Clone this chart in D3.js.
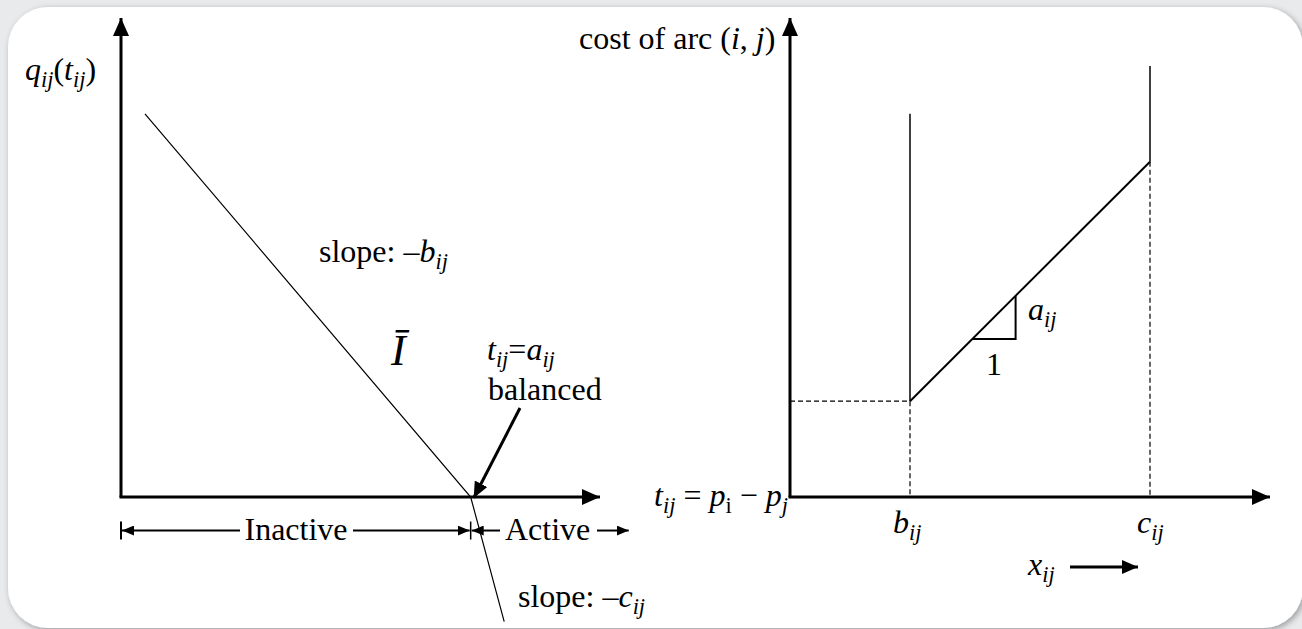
<!DOCTYPE html>
<html><head><meta charset="utf-8">
<script src="https://cdn.jsdelivr.net/npm/d3@7"></script>
<style>
html,body{margin:0;padding:0;background:#e9eaec;}
svg{display:block;}
text{font-family:"Liberation Serif","Times New Roman",serif;fill:#000;}
</style></head><body>
<svg id="chart" width="1302" height="629"></svg>
<script>
// Left panel: q_ij(t_ij) as a piecewise-linear function of t_ij
const qCurve = [[0.5, 8.0], [7.3, 0], [8.0, -2.6]];
const balancedT = 7.3;
const inactiveSpan = [0, 7.3];
const activeSpan = [7.3, 10.6];

// Right panel: cost of arc (i, j) against flow x_ij
const lowerBound = 2.5;      // b_ij
const upperBound = 7.5;      // c_ij
const costAtLower = 2;
const costAtUpper = 7;
const wallTops = [8, 9];     // tops of the vertical walls at b_ij and c_ij
const unitStep = [3.8, 4.7]; // slope triangle base

const FS = 32;
const svg = d3.select("#chart");

// panel card
const defs = svg.append("defs");
const f = defs.append("filter").attr("id", "shadow").attr("x", "-5%").attr("y", "-5%").attr("width", "110%").attr("height", "110%");
f.append("feDropShadow").attr("dx", 2).attr("dy", 2).attr("stdDeviation", 3).attr("flood-color", "#000").attr("flood-opacity", 0.35);
svg.append("rect").attr("x", 8).attr("y", 7).attr("width", 1295).attr("height", 621)
  .attr("rx", 40).attr("fill", "#fff").attr("filter", "url(#shadow)");

function marker(id, len, half) {
  defs.append("marker").attr("id", id).attr("markerUnits", "userSpaceOnUse")
    .attr("viewBox", `0 ${-half} ${len} ${2 * half}`)
    .attr("refX", len).attr("refY", 0)
    .attr("markerWidth", len).attr("markerHeight", 2 * half)
    .attr("orient", "auto")
    .append("path").attr("d", `M0,${-half}L${len},0L0,${half}Z`).attr("fill", "#000");
}
marker("bigHead", 18, 8);
marker("midHead", 16, 7);
marker("smallHead", 12, 5);

const xL = d3.scaleLinear().domain([0, 10]).range([121, 600]);
const yL = d3.scaleLinear().domain([0, 10]).range([497, 18]);
const xR = d3.scaleLinear().domain([0, 10]).range([790, 1270]);
const yR = d3.scaleLinear().domain([0, 10]).range([497, 18]);

const line = (xs, ys) => d3.line().x(d => xs(d[0])).y(d => ys(d[1]));

function arrowLine(g, p1, p2, w, head) {
  g.append("line").attr("x1", p1[0]).attr("y1", p1[1]).attr("x2", p2[0]).attr("y2", p2[1])
    .attr("stroke", "#000").attr("stroke-width", w).attr("marker-end", `url(#${head})`);
}

// rich text: parts = [text, italic, sub]
function rich(x, y, parts, size, anchor) {
  const t = svg.append("text").attr("x", x).attr("y", y).attr("font-size", size)
    .attr("text-anchor", anchor || "start");
  let down = false;
  const drop = size * 0.22;
  parts.forEach(([s, it, sub]) => {
    const sp = t.append("tspan").text(s).attr("font-style", it ? "italic" : "normal");
    if (sub) { sp.attr("font-size", size * 0.7); if (!down) { sp.attr("dy", drop); down = true; } }
    else if (down) { sp.attr("dy", -drop); down = false; }
  });
  return t;
}

// ---------- left panel ----------
const gl = svg.append("g");
arrowLine(gl, [xL(0), yL(0)], [xL(0), yL(10)], 3, "bigHead");
arrowLine(gl, [xL(0) - 1.5, yL(0)], [xL(10), yL(0)], 3, "bigHead");
gl.append("path").datum(qCurve).attr("d", line(xL, yL)).attr("fill", "none")
  .attr("stroke", "#000").attr("stroke-width", 1.2);

// Inactive / Active brackets
const by = yL(-0.7);
gl.append("line").attr("x1", xL(inactiveSpan[0])).attr("x2", xL(inactiveSpan[0]))
  .attr("y1", by - 9).attr("y2", by + 9).attr("stroke", "#000").attr("stroke-width", 2);
gl.append("line").attr("x1", xL(balancedT)).attr("x2", xL(balancedT))
  .attr("y1", by - 9).attr("y2", by + 9).attr("stroke", "#000").attr("stroke-width", 1.5);
arrowLine(gl, [240, by], [xL(inactiveSpan[0]) + 1, by], 2, "smallHead");
arrowLine(gl, [353, by], [xL(inactiveSpan[1]) - 1, by], 2, "smallHead");
arrowLine(gl, [500, by], [xL(activeSpan[0]) + 1, by], 2, "smallHead");
arrowLine(gl, [597, by], [xL(activeSpan[1]), by], 2, "smallHead");

// balanced pointer
arrowLine(gl, [520, 408], [xL(balancedT) + 3, yL(0) + 1], 3, "midHead");

rich(25, 80, [["q", 1], ["ij", 1, 1], ["(", 0], ["t", 1], ["ij", 1, 1], [")", 0]], FS);
rich(319, 262, [["slope: –", 0], ["b", 1], ["ij", 1, 1]], FS);
svg.append("text").attr("x", 391).attr("y", 365).attr("font-size", 44).attr("font-style", "italic").text("Ī");
rich(487, 360, [["t", 1], ["ij", 1, 1], ["=", 0], ["a", 1], ["ij", 1, 1]], FS);
rich(488, 400, [["balanced", 0]], FS);
rich(296, 540, [["Inactive", 0]], FS, "middle");
rich(505, 540, [["Active", 0]], FS);
rich(518, 607, [["slope: –", 0], ["c", 1], ["ij", 1, 1]], FS);

// ---------- right panel ----------
const gr = svg.append("g");
arrowLine(gr, [xR(0), yR(0)], [xR(0), yR(10)], 3, "bigHead");
arrowLine(gr, [xR(0) - 1.5, yR(0)], [xR(10), yR(0)], 3, "bigHead");

// dashed guides
gr.append("line").attr("x1", xR(0)).attr("x2", xR(lowerBound)).attr("y1", yR(costAtLower)).attr("y2", yR(costAtLower))
  .attr("stroke", "#000").attr("stroke-width", 1.2).attr("stroke-dasharray", "5,3");
[[lowerBound, costAtLower], [upperBound, costAtUpper]].forEach(([x, c]) => {
  gr.append("line").attr("x1", xR(x)).attr("x2", xR(x)).attr("y1", yR(c)).attr("y2", yR(0))
    .attr("stroke", "#000").attr("stroke-width", 1.2).attr("stroke-dasharray", "5,3");
});
// walls
[[lowerBound, costAtLower, wallTops[0]], [upperBound, costAtUpper, wallTops[1]]].forEach(([x, c, top]) => {
  gr.append("line").attr("x1", xR(x)).attr("x2", xR(x)).attr("y1", yR(c)).attr("y2", yR(top))
    .attr("stroke", "#000").attr("stroke-width", 1.5);
});
// cost segment
gr.append("path").datum([[lowerBound, costAtLower], [upperBound, costAtUpper]]).attr("d", line(xR, yR))
  .attr("fill", "none").attr("stroke", "#000").attr("stroke-width", 2);
// unit slope triangle
const slope = (costAtUpper - costAtLower) / (upperBound - lowerBound);
const yAt = x => costAtLower + slope * (x - lowerBound);
gr.append("path").datum([[unitStep[0], yAt(unitStep[0])], [unitStep[1], yAt(unitStep[0])], [unitStep[1], yAt(unitStep[1])]])
  .attr("d", line(xR, yR)).attr("fill", "none").attr("stroke", "#000").attr("stroke-width", 2);

rich(579, 49, [["cost of arc (", 0], ["i", 1], [", ", 0], ["j", 1], [")", 0]], FS);
rich(1028, 320, [["a", 1], ["ij", 1, 1]], FS);
rich(xR((unitStep[0] + unitStep[1]) / 2), 375, [["1", 0]], FS, "middle");
rich(788, 506, [["t", 1], ["ij", 1, 1], [" = ", 0], ["p", 1], ["i", 0, 1], [" − ", 0], ["p", 1], ["j", 1, 1]], FS, "end");
rich(xR(lowerBound) - 17, 533, [["b", 1], ["ij", 1, 1]], FS);
rich(xR(upperBound) - 13, 533, [["c", 1], ["ij", 1, 1]], FS);
rich(1028, 575, [["x", 1], ["ij", 1, 1]], FS);
arrowLine(gr, [1070, 567], [1138, 567], 3, "midHead");
</script>
</body></html>
